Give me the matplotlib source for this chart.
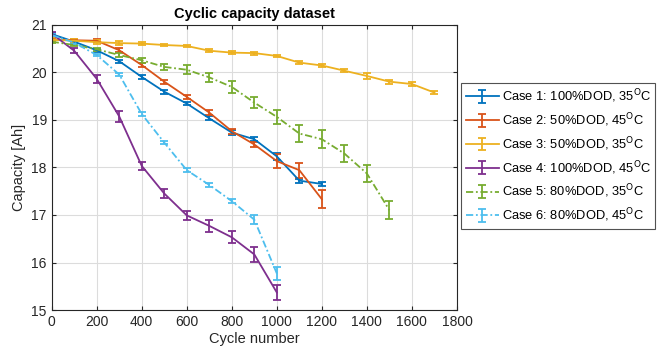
import matplotlib
matplotlib.use("Agg")
import matplotlib.pyplot as plt

plt.rcParams['font.family'] = ['Liberation Sans', 'DejaVu Sans']

cycles = [0, 100, 200, 300, 400, 500, 600, 700, 800, 900, 1000, 1100, 1200, 1300, 1400, 1500, 1600, 1700]

case1 = [20.80, 20.64, 20.46, 20.23, 19.90, 19.59, 19.34, 19.03, 18.73, 18.59, 18.23, 17.72, 17.65]
case1_err = [0.03, 0.03, 0.03, 0.03, 0.04, 0.04, 0.04, 0.04, 0.05, 0.04, 0.08, 0.04, 0.04]
case2 = [20.69, 20.67, 20.66, 20.46, 20.15, 19.80, 19.48, 19.15, 18.76, 18.48, 18.13, 17.94, 17.33]
case2_err = [0.03, 0.03, 0.03, 0.04, 0.04, 0.04, 0.04, 0.05, 0.05, 0.06, 0.15, 0.16, 0.19]
case3 = [20.68, 20.66, 20.63, 20.61, 20.60, 20.57, 20.55, 20.45, 20.41, 20.40, 20.34, 20.20, 20.14, 20.03, 19.92, 19.80, 19.75, 19.57]
case3_err = [0.03, 0.03, 0.04, 0.04, 0.04, 0.03, 0.03, 0.03, 0.03, 0.03, 0.03, 0.03, 0.03, 0.03, 0.07, 0.04, 0.05, 0.03]
case4 = [20.81, 20.45, 19.86, 19.07, 18.03, 17.45, 16.99, 16.77, 16.53, 16.17, 15.37]
case4_err = [0.03, 0.05, 0.08, 0.11, 0.09, 0.10, 0.09, 0.12, 0.13, 0.16, 0.16]
case5 = [20.64, 20.57, 20.48, 20.36, 20.25, 20.11, 20.05, 19.89, 19.69, 19.36, 19.06, 18.71, 18.59, 18.29, 17.87, 17.10]
case5_err = [0.03, 0.03, 0.03, 0.04, 0.05, 0.07, 0.09, 0.10, 0.13, 0.12, 0.14, 0.17, 0.19, 0.17, 0.17, 0.19]
case6 = [20.78, 20.62, 20.36, 19.95, 19.12, 18.52, 17.94, 17.63, 17.29, 16.90, 15.77]
case6_err = [0.03, 0.03, 0.03, 0.04, 0.04, 0.04, 0.04, 0.04, 0.04, 0.10, 0.14]

labels = ['Case 1: 100%DOD, 35$^{\\mathrm{O}}$C',
          'Case 2: 50%DOD, 45$^{\\mathrm{O}}$C',
          'Case 3: 50%DOD, 35$^{\\mathrm{O}}$C',
          'Case 4: 100%DOD, 45$^{\\mathrm{O}}$C',
          'Case 5: 80%DOD, 35$^{\\mathrm{O}}$C',
          'Case 6: 80%DOD, 45$^{\\mathrm{O}}$C']
colors = ['#0072BD', '#D95319', '#EDB120', '#7E2F8E', '#77AC30', '#4DBEEE']
styles = ['-', '-', '-', '-', (0, (4, 1.5, 1, 1.5)), (0, (4, 1.5, 1, 1.5))]

series = [(case1, case1_err), (case2, case2_err), (case3, case3_err),
          (case4, case4_err), (case5, case5_err), (case6, case6_err)]

fig = plt.figure(figsize=(6.71, 3.61), dpi=100)
ax = fig.add_axes([0.077, 0.141, 0.604, 0.791])

for (vals, errs), lab, c, ls in zip(series, labels, colors, styles):
    x = cycles[:len(vals)]
    eb = ax.errorbar(x, vals, yerr=errs, color=c, linewidth=1.3, capsize=3,
                     elinewidth=1.3, capthick=1.3, label=lab)
    eb[0].set_linestyle(ls)

ax.set_xlim(0, 1800)
ax.set_ylim(15, 21)
ax.set_xticks(range(0, 1801, 200))
ax.set_yticks(range(15, 22))
ax.grid(True, color='#dcdcdc', linewidth=0.8)
ax.set_axisbelow(True)
for s in ax.spines.values():
    s.set_color('#262626')
    s.set_linewidth(0.8)
ax.tick_params(direction='in', length=3, labelsize=10, colors='#262626', top=True, right=True)
ax.set_xlabel('Cycle number', fontsize=10.5, color='#262626', labelpad=2)
ax.set_ylabel('Capacity [Ah]', fontsize=10.5, color='#262626', labelpad=4)
ax.set_title('Cyclic capacity dataset', fontsize=10.5, fontweight='bold', pad=5)

leg = ax.legend(loc='upper left', bbox_to_anchor=(461/671, 1-83/361), bbox_transform=fig.transFigure,
                fontsize=9.3, frameon=True, fancybox=False, edgecolor='#262626',
                borderpad=0.35, labelspacing=0.48, handlelength=2.6, handletextpad=0.2, borderaxespad=0)
leg.get_frame().set_linewidth(0.8)

fig.savefig('out.png', dpi=100)
